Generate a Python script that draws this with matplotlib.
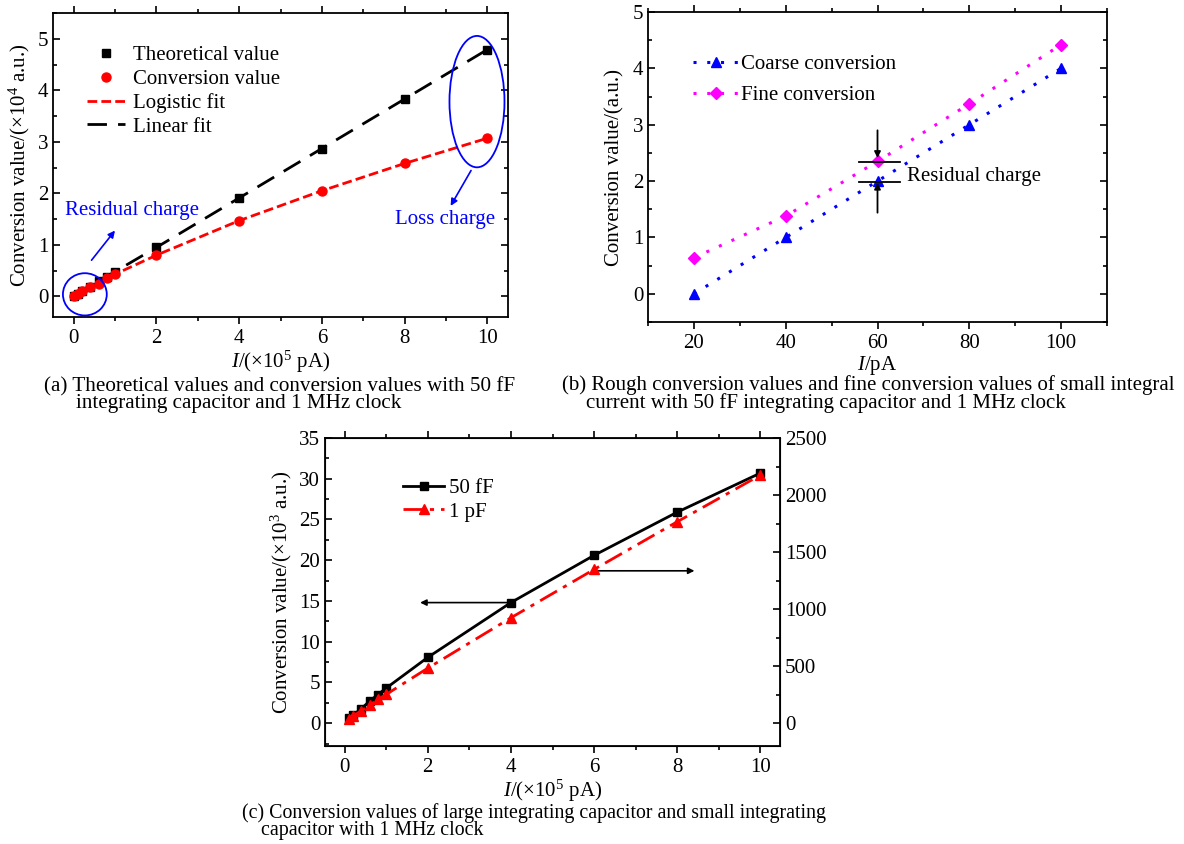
import matplotlib
matplotlib.use("Agg")
import matplotlib.pyplot as plt
from matplotlib.lines import Line2D
from matplotlib.patches import Ellipse
from matplotlib.ticker import MultipleLocator

plt.rcParams["font.family"] = ["Liberation Serif", "DejaVu Serif"]
plt.rcParams["mathtext.fontset"] = "custom"
plt.rcParams["mathtext.rm"] = "Liberation Serif"
plt.rcParams["mathtext.it"] = "Liberation Serif:italic"

# (a) theoretical vs conversion, 50 fF
a_current = [0, 0.1, 0.2, 0.4, 0.6, 0.8, 1, 2, 4, 6, 8, 10]
a_theory = [0.0, 0.048, 0.096, 0.19, 0.29, 0.38, 0.48, 0.95, 1.91, 2.87, 3.83, 4.79]
a_convert = [0.01, 0.05, 0.10, 0.18, 0.25, 0.36, 0.43, 0.80, 1.47, 2.05, 2.58, 3.07]

# (b) small currents
b_current = [20, 40, 60, 80, 100]
b_coarse = [0, 1, 2, 3, 4]
b_fine = [0.64, 1.38, 2.35, 3.37, 4.42]

# (c) 50 fF (left axis, x10^3) and 1 pF (right axis)
c_current = [0.1, 0.2, 0.4, 0.6, 0.8, 1, 2, 4, 6, 8, 10]
c_50ff = [0.58, 0.98, 1.76, 2.7, 3.5, 4.3, 8.07, 14.8, 20.6, 25.9, 30.7]
c_1pf = [38, 61, 108, 158, 208, 252, 482, 924, 1348, 1766, 2175]

FS = 15
TS = 15
W, H = 1184, 844


def box(l, t, r, b):
    return [l / W, (H - b) / H, (r - l) / W, (b - t) / H]


def style(ax, right=True):
    ax.tick_params(which="both", direction="in", top=True, right=right,
                   labelsize=TS, width=1.2)
    ax.tick_params(axis="x", which="both", bottom=True, direction="out")
    ax.tick_params(axis="x", which="both", top=True)
    ax.tick_params(which="major", length=5)
    ax.tick_params(which="minor", length=3)
    for s in ax.spines.values():
        s.set_linewidth(1.3)


fig = plt.figure(figsize=(W / 100, H / 100), dpi=100)
fig.patch.set_facecolor("white")

# ---------------- (a)
ax = fig.add_axes(box(53, 13, 508, 317))
ax.plot(a_current, a_theory, color="black", lw=2, dashes=(7, 4), zorder=2)
ax.plot(a_current, a_convert, color="red", lw=2, dashes=(3.5, 1.5), zorder=2)
ax.plot(a_current, a_theory, "s", color="black", ms=6, ls="none", zorder=3)
ax.plot(a_current, a_convert, "o", color="red", ms=6.5, ls="none", zorder=3)
ax.set_xlim(-0.5, 10.5)
ax.set_ylim(-0.4, 5.5)
ax.xaxis.set_major_locator(MultipleLocator(2))
ax.xaxis.set_minor_locator(MultipleLocator(1))
ax.yaxis.set_major_locator(MultipleLocator(1))
ax.yaxis.set_minor_locator(MultipleLocator(0.5))
style(ax)
ax.set_xlabel(r"$\mathit{I}$/(×10$^5$ pA)", fontsize=FS, labelpad=1)
ax.set_ylabel("Conversion value/(×10$^4$ a.u.)", fontsize=FS, labelpad=4)

ax.add_patch(Ellipse((0.27, 0.04), 1.06, 0.82, fill=False, ec="blue", lw=1.3, zorder=4))
ax.add_patch(Ellipse((9.75, 3.78), 1.33, 2.55, fill=False, ec="blue", lw=1.3, zorder=4))
ax.annotate("", xy=(1.04, 1.32), xytext=(0.39, 0.66),
            arrowprops=dict(arrowstyle="-|>", color="blue", lw=1.2, mutation_scale=10))
ax.annotate("", xy=(9.08, 1.71), xytext=(9.64, 2.49),
            arrowprops=dict(arrowstyle="-|>", color="blue", lw=1.2, mutation_scale=10))
ax.text(-0.22, 1.67, "Residual charge", color="blue", fontsize=FS, va="center")
ax.text(7.78, 1.50, "Loss charge", color="blue", fontsize=FS, va="center")

handles_a = [
    Line2D([], [], marker="s", color="black", ls="none", ms=6),
    Line2D([], [], marker="o", color="red", ls="none", ms=6.5),
    Line2D([], [], color="red", lw=2, dashes=(3.5, 1.5)),
    Line2D([], [], color="black", lw=2, dashes=(7, 4)),
]
ax.legend(handles_a, ["Theoretical value", "Conversion value", "Logistic fit", "Linear fit"],
          loc="upper left", bbox_to_anchor=(0.075, 0.893), frameon=False, fontsize=FS,
          handlelength=1.8, handletextpad=0.4, labelspacing=0.2, borderpad=0,
          borderaxespad=0, numpoints=1)

# ---------------- (b)
ax = fig.add_axes(box(648, 12, 1107, 322))
ax.plot(b_current, b_coarse, color="blue", lw=2.2, ls=(0, (1, 3.5)),
        marker="^", ms=7.5, label="Coarse conversion")
ax.plot(b_current, b_fine, color="magenta", lw=2.2, ls=(0, (1, 3.5)),
        marker="D", ms=6.5, label="Fine conversion")
ax.set_xlim(10, 110)
ax.set_ylim(-0.5, 5)
ax.xaxis.set_major_locator(MultipleLocator(20))
ax.xaxis.set_minor_locator(MultipleLocator(10))
ax.yaxis.set_major_locator(MultipleLocator(1))
ax.yaxis.set_minor_locator(MultipleLocator(0.5))
style(ax)
ax.set_xlabel(r"$\mathit{I}$/pA", fontsize=FS, labelpad=1)
ax.set_ylabel("Conversion value/(a.u.)", fontsize=FS, labelpad=6)

ax.plot([56.0, 64.9], [2.33, 2.33], color="black", lw=1.3)
ax.plot([56.0, 64.9], [1.99, 1.99], color="black", lw=1.3)
ax.annotate("", xy=(60, 2.36), xytext=(60, 2.95),
            arrowprops=dict(arrowstyle="-|>", color="black", lw=1.3, mutation_scale=9))
ax.annotate("", xy=(60, 2.02), xytext=(60, 1.39),
            arrowprops=dict(arrowstyle="-|>", color="black", lw=1.3, mutation_scale=9))
ax.text(66.5, 2.08, "Residual charge", fontsize=FS, va="center")
ax.legend(loc="upper left", bbox_to_anchor=(0.098, 0.862), frameon=False, fontsize=FS,
          handlelength=2.2, handletextpad=0.12, labelspacing=0.55, borderpad=0,
          borderaxespad=0, numpoints=1)

# ---------------- (c)
ax = fig.add_axes(box(325, 438, 780, 746))
ax2 = ax.twinx()
l1, = ax.plot(c_current, c_50ff, color="black", lw=2, marker="s", ms=5.5, label="50 fF")
l2, = ax2.plot(c_current, c_1pf, color="red", lw=2, ls=(0, (7, 2.5, 1.5, 2.5)),
               marker="^", ms=6.5, label="1 pF")
ax.set_xlim(-0.47, 10.47)
ax.set_ylim(-2.8, 35)
ax2.set_ylim(-200, 2500)
ax.xaxis.set_major_locator(MultipleLocator(2))
ax.xaxis.set_minor_locator(MultipleLocator(1))
ax.yaxis.set_major_locator(MultipleLocator(5))
ax.yaxis.set_minor_locator(MultipleLocator(2.5))
ax2.yaxis.set_major_locator(MultipleLocator(500))
ax2.yaxis.set_minor_locator(MultipleLocator(250))
style(ax, right=False)
ax2.tick_params(which="both", direction="in", labelsize=TS, width=1.2)
ax2.tick_params(which="major", length=5)
ax2.tick_params(which="minor", length=3)
ax.set_xlabel(r"$\mathit{I}$/(×10$^5$ pA)", fontsize=FS, labelpad=1)
ax.set_ylabel("Conversion value/(×10$^3$ a.u.)", fontsize=FS, labelpad=4)

ax.annotate("", xy=(1.75, 14.8), xytext=(3.97, 14.8),
            arrowprops=dict(arrowstyle="-|>", color="black", lw=1.2, mutation_scale=9))
ax.annotate("", xy=(8.48, 18.7), xytext=(6.03, 18.7),
            arrowprops=dict(arrowstyle="-|>", color="black", lw=1.2, mutation_scale=9))
ax.legend([l1, l2], ["50 fF", "1 pF"], loc="upper left", bbox_to_anchor=(0.171, 0.869),
          frameon=False, fontsize=FS, handlelength=2.0, handletextpad=0.24,
          labelspacing=0.2, borderpad=0, borderaxespad=0, numpoints=1)

# ---------------- captions
fig.text(44 / W, 1 - 387 / H, "(a) Theoretical values and conversion values with 50 fF",
         fontsize=15.2, va="center")
fig.text(76 / W, 1 - 404 / H, "integrating capacitor and 1 MHz clock",
         fontsize=15.2, va="center")
fig.text(562 / W, 1 - 385 / H,
         "(b) Rough conversion values and fine conversion values of small integral",
         fontsize=15, va="center")
fig.text(586 / W, 1 - 403 / H, "current with 50 fF integrating capacitor and 1 MHz clock",
         fontsize=15, va="center")
fig.text(242 / W, 1 - 813 / H,
         "(c) Conversion values of large integrating capacitor and small integrating",
         fontsize=14.3, va="center")
fig.text(261 / W, 1 - 831 / H, "capacitor with 1 MHz clock", fontsize=14.3, va="center")

fig.savefig("out.png", dpi=100)
